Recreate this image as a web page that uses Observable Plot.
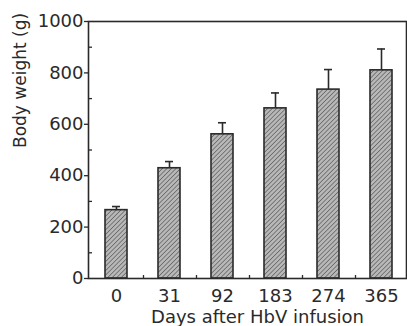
<!DOCTYPE html>
<html><head><meta charset="utf-8">
<script src="https://cdn.jsdelivr.net/npm/d3@7"></script>
<script src="https://cdn.jsdelivr.net/npm/@observablehq/plot@0.6"></script>
<style>body{margin:0;background:#fff} svg{display:block}</style>
</head><body><div id="chart"></div>
<script>
const days = ["0", "31", "92", "183", "274", "365"];
const weight = [266, 429, 561, 662, 735, 810];
const sd = [14, 26, 45, 60, 78, 83];
const yMajor = [0, 200, 400, 600, 800, 1000];
const yMinor = [100, 300, 500, 700, 900];
const xLabel = "Days after HbV infusion";
const yLabel = "Body weight (g)";

const data = days.map((d, i) => ({day: d, w: weight[i], hi: weight[i] + sd[i]}));
const ink = "#2a2a2a";

const chart = Plot.plot({
  width: 407, height: 326,
  marginLeft: 88, marginRight: 1, marginTop: 21, marginBottom: 48,
  style: {fontFamily: "'DejaVu Sans', sans-serif", fontSize: "18px", color: ink, background: "#fff"},
  x: {domain: days, paddingInner: 0.58, paddingOuter: 0.25, align: 0.55, axis: null},
  y: {domain: [0, 1000], axis: null},
  marks: [
    Plot.rectY(data, {x: "day", y: "w", fill: "url(#hatch)", stroke: ink, strokeWidth: 1.6}),
    Plot.ruleX(data, {x: "day", y1: "w", y2: "hi", stroke: ink, strokeWidth: 1.6}),
    Plot.tickY(data, {x: "day", y: "hi", stroke: ink, strokeWidth: 1.6, insetLeft: 7, insetRight: 7}),
    Plot.axisY({ticks: yMajor, tickSize: 4, tickPadding: 1, tickFormat: d => String(d), label: null, stroke: ink, strokeWidth: 1.3}),
    Plot.axisY({ticks: yMinor, tickSize: -4, tickFormat: () => "", label: null, stroke: ink, strokeWidth: 1.3}),
    Plot.axisX({tickSize: 0, tickPadding: 11, label: null}),
    Plot.axisX({ticks: days.slice(0, 5), tickSize: -3, dx: 27, tickFormat: () => "", label: null, stroke: ink, strokeWidth: 1.3}),
    Plot.frame({stroke: ink, strokeWidth: 1.6}),
    Plot.text([xLabel], {text: d => d, frameAnchor: "bottom", dx: 10, dy: 39, lineAnchor: "middle", fill: ink, fontSize: 18}),
    Plot.text([yLabel], {text: d => d, frameAnchor: "left", rotate: -90, dx: -68, dy: -2, lineAnchor: "middle", fill: ink, fontSize: 17})
  ]
});

const ns = "http://www.w3.org/2000/svg";
const defs = document.createElementNS(ns, "defs");
defs.innerHTML = `<pattern id="hatch" patternUnits="userSpaceOnUse" width="3.2" height="3.2" patternTransform="rotate(45)">
  <rect width="3.2" height="3.2" fill="#b8b8b8"></rect>
  <line x1="0" y1="0" x2="0" y2="3.2" stroke="#555" stroke-width="1.3"></line>
</pattern>`;
chart.insertBefore(defs, chart.firstChild);
document.getElementById("chart").appendChild(chart);
</script>
</body></html>
